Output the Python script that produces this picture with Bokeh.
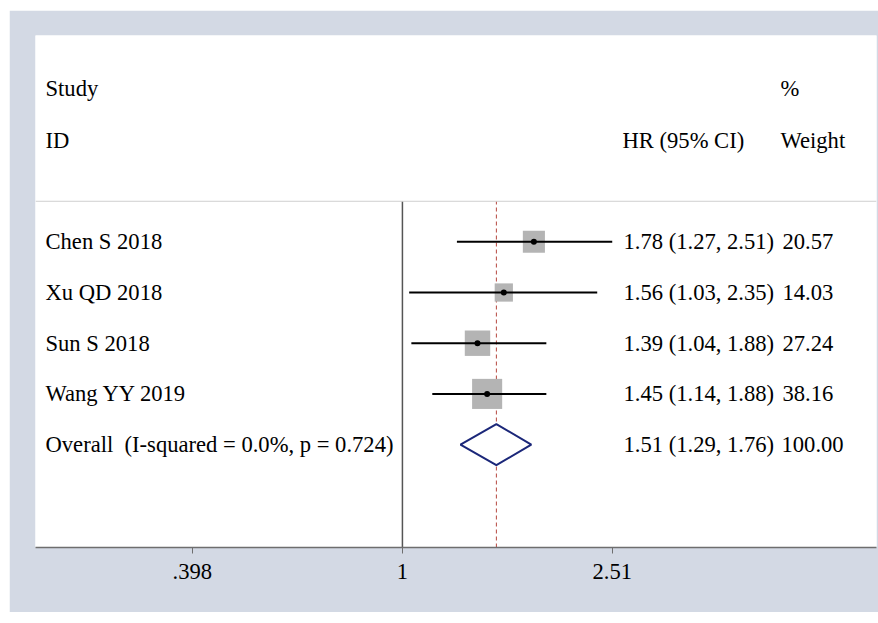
import numpy as np
from bokeh.plotting import figure
from bokeh.models import ColumnDataSource, FixedTicker, Span, Spacer
from bokeh.layouts import column, row
from bokeh.core.properties import value
from bokeh.embed import file_html
from bokeh.resources import INLINE

# Study-level hazard ratios with 95% confidence intervals and weights
studies = ["Chen S 2018", "Xu QD 2018", "Sun S 2018", "Wang YY 2019"]
hr = [1.78, 1.56, 1.39, 1.45]
ci_low = [1.27, 1.03, 1.04, 1.14]
ci_high = [2.51, 2.35, 1.88, 1.88]
weights = [20.57, 14.03, 27.24, 38.16]

overall_label = "Overall \u00a0(I-squared = 0.0%, p = 0.724)"
overall_hr = 1.51
overall_low = 1.29
overall_high = 1.76
overall_weight = 100.00

tick_values = [0.398, 1, 2.51]
tick_labels = [".398", "1", "2.51"]

FONT = value("Liberation Serif")
FS = "22.6px"
X_LO, X_HI = 0.2, 8.0

rows = list(range(len(studies) + 1, 1, -1))  # study rows, top to bottom
overall_row = 1

p = figure(width=869, height=602, x_axis_type="log",
           x_range=(X_LO, X_HI), y_range=(-1.03, 9.07),
           output_backend="svg", toolbar_location=None,
           min_border_left=26, min_border_right=2,
           min_border_top=25, min_border_bottom=65,
           border_fill_color="#d3d9e4", background_fill_color="white",
           outline_line_color=None)
p.yaxis.visible = False
p.xgrid.visible = False
p.ygrid.visible = False

# header separator
p.add_layout(Span(location=5.8, dimension="width", line_color="#cfcfcf", line_width=1))

# null line at HR = 1 and dashed pooled-estimate line
p.segment(x0=[1], y0=[-1.03], x1=[1], y1=[5.8], line_color="#555555", line_width=1.5)
p.segment(x0=[overall_hr], y0=[-1.03], x1=[overall_hr], y1=[5.8],
          line_color="#b5473f", line_width=1, line_dash="4 3")

src = ColumnDataSource(dict(
    y=rows, hr=hr, lo=ci_low, hi=ci_high,
    size=[4.87 * np.sqrt(w) for w in weights],
    study=studies,
    hrtxt=[f"{h:.2f} ({l:.2f}, {u:.2f})" for h, l, u in zip(hr, ci_low, ci_high)],
    wtxt=[f"{w:.2f}" for w in weights],
    xl=[X_LO] * len(studies),
))

# weight boxes, CI whiskers and point estimates
p.scatter("hr", "y", source=src, marker="square", size="size",
          fill_color="#b4b4b4", line_color=None)
p.segment(x0="lo", y0="y", x1="hi", y1="y", source=src, line_color="black", line_width=2)
p.scatter("hr", "y", source=src, marker="circle", size=6, fill_color="black", line_color=None)

# pooled estimate diamond
h = 0.405
p.patch(x=[overall_low, overall_hr, overall_high, overall_hr],
        y=[overall_row, overall_row + h, overall_row, overall_row - h],
        fill_color="white", line_color="#1b2779", line_width=2)

# text columns
txt_kw = dict(text_font=FONT, text_font_size=FS, text_baseline="middle",
              text_align="left", text_color="black")
p.text(x="xl", y="y", text="study", source=src, x_offset=10, **txt_kw)
p.text(x="xl", y="y", text="hrtxt", source=src, x_offset=588, **txt_kw)
p.text(x="xl", y="y", text="wtxt", source=src, x_offset=747, **txt_kw)

p.text(x=[X_LO], y=[overall_row], text=[overall_label], x_offset=10, **txt_kw)
p.text(x=[X_LO], y=[overall_row],
       text=[f"{overall_hr:.2f} ({overall_low:.2f}, {overall_high:.2f})"], x_offset=588, **txt_kw)
p.text(x=[X_LO], y=[overall_row], text=[f"{overall_weight:.2f}"], x_offset=746, **txt_kw)

# headers
p.text(x=[X_LO, X_LO], y=[8.02, 7.0], text=["Study", "ID"], x_offset=10, **txt_kw)
p.text(x=[X_LO], y=[7.0], text=["HR (95% CI)"], x_offset=587, **txt_kw)
p.text(x=[X_LO, X_LO], y=[8.02, 7.0], text=["%", "Weight"], x_offset=745, **txt_kw)

# x axis
p.xaxis.ticker = FixedTicker(ticks=tick_values)
p.xaxis.major_label_overrides = {t: l for t, l in zip(tick_values, tick_labels)}
p.xaxis.minor_tick_line_color = None
p.xaxis.major_tick_in = 0
p.xaxis.major_tick_out = 6
p.xaxis.major_tick_line_color = "#6e6e6e"
p.xaxis.axis_line_color = "#6e6e6e"
p.xaxis.axis_line_width = 1.5
p.xaxis.major_label_text_font = "Liberation Serif"
p.xaxis.major_label_text_font_size = FS
p.xaxis.major_label_text_color = "black"
p.xaxis.major_label_standoff = 10

layout = column(Spacer(height=10), row(Spacer(width=9), p))

open("out.html", "w").write(file_html(layout, INLINE))
